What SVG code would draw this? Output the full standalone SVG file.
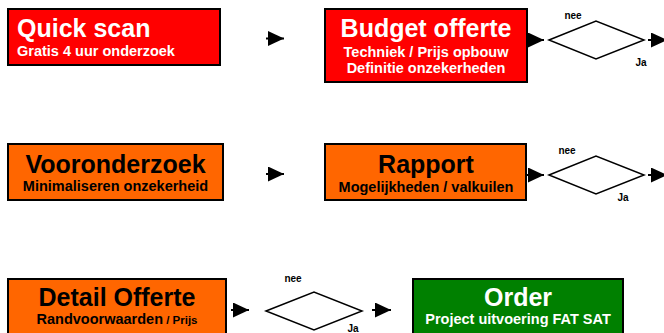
<svg xmlns="http://www.w3.org/2000/svg" width="664" height="333" viewBox="0 0 664 333">
<defs>
<style>
.box{stroke:#000;stroke-width:2}
.red{fill:#FF0000}.orange{fill:#FF6600}.green{fill:#008000}
.t{font-family:"Liberation Sans",Arial,sans-serif;font-weight:bold}
.title{font-size:25px}
.sub{font-size:14.5px}
.w{fill:#fff}.k{fill:#000}
.lbl{font-family:"Liberation Sans",Arial,sans-serif;font-weight:bold;font-size:10px;fill:#000}
.dia{fill:#fff;stroke:#000;stroke-width:1.5}
.con{stroke:#000;stroke-width:2;fill:none}
</style>
<marker id="ah" markerUnits="userSpaceOnUse" markerWidth="16" markerHeight="15" refX="16" refY="7.5" orient="auto">
<path d="M0,0 L16,7.5 L0,15 Z" fill="#000"/>
</marker>
</defs>

<g id="quickscan">
<rect class="box red" x="8" y="9" width="212" height="56"/>
<text class="t title w" x="17" y="37">Quick scan</text>
<text class="t sub w" x="17" y="56">Gratis 4 uur onderzoek</text>
</g>

<g id="budget">
<rect class="box red" x="325" y="9" width="202" height="73"/>
<text class="t title w" x="426" y="37" text-anchor="middle">Budget offerte</text>
<text class="t sub w" x="426" y="57" text-anchor="middle">Techniek / Prijs opbouw</text>
<text class="t sub w" x="426" y="73" text-anchor="middle">Definitie onzekerheden</text>
</g>

<g id="beslissing1">
<polygon class="dia" points="549,40 596,21 644,40 596,59"/>
<text class="lbl" x="573" y="19" text-anchor="middle">nee</text>
<text class="lbl" x="641" y="66" text-anchor="middle">Ja</text>
</g>

<g id="vooronderzoek">
<rect class="box orange" x="8" y="144" width="215" height="56"/>
<text class="t title k" x="115.5" y="173" text-anchor="middle">Vooronderzoek</text>
<text class="t sub k" x="115.5" y="191" text-anchor="middle">Minimaliseren onzekerheid</text>
</g>

<g id="rapport">
<rect class="box orange" x="325" y="144" width="201" height="56"/>
<text class="t title k" x="426" y="173" text-anchor="middle">Rapport</text>
<text class="t sub k" x="426" y="192" text-anchor="middle">Mogelijkheden / valkuilen</text>
</g>

<g id="beslissing2">
<polygon class="dia" points="549,175 596,156 644,175 596,194"/>
<text class="lbl" x="567" y="154" text-anchor="middle">nee</text>
<text class="lbl" x="623" y="201" text-anchor="middle">Ja</text>
</g>

<g id="detailofferte">
<rect class="box orange" x="8" y="279" width="218" height="60"/>
<text class="t title k" x="117" y="306" text-anchor="middle">Detail Offerte</text>
<text class="t k" x="117" y="324" text-anchor="middle"><tspan class="sub">Randvoorwaarden</tspan><tspan style="font-size:11.5px"> / Prijs</tspan></text>
</g>

<g id="beslissing3">
<polygon class="dia" points="266,311 314,292 362,311 314,330"/>
<text class="lbl" x="293" y="282" text-anchor="middle">nee</text>
<text class="lbl" x="353" y="332" text-anchor="middle">Ja</text>
</g>

<g id="order">
<rect class="box green" x="413" y="279" width="210" height="60"/>
<text class="t title w" x="518" y="306" text-anchor="middle">Order</text>
<text class="t sub w" x="518" y="324" text-anchor="middle">Project uitvoering FAT SAT</text>
</g>

<g id="connectors">
<line class="con" x1="266" y1="38.5" x2="284" y2="38.5" marker-end="url(#ah)"/>
<line class="con" x1="527" y1="40" x2="544" y2="40" marker-end="url(#ah)"/>
<line class="con" x1="648" y1="40" x2="667" y2="40" marker-end="url(#ah)"/>
<line class="con" x1="266" y1="174" x2="284" y2="174" marker-end="url(#ah)"/>
<line class="con" x1="526" y1="175" x2="544" y2="175" marker-end="url(#ah)"/>
<line class="con" x1="648" y1="175" x2="667" y2="175" marker-end="url(#ah)"/>
<line class="con" x1="231" y1="310" x2="249" y2="310" marker-end="url(#ah)"/>
<line class="con" x1="372" y1="310" x2="391" y2="310" marker-end="url(#ah)"/>
</g>
</svg>
